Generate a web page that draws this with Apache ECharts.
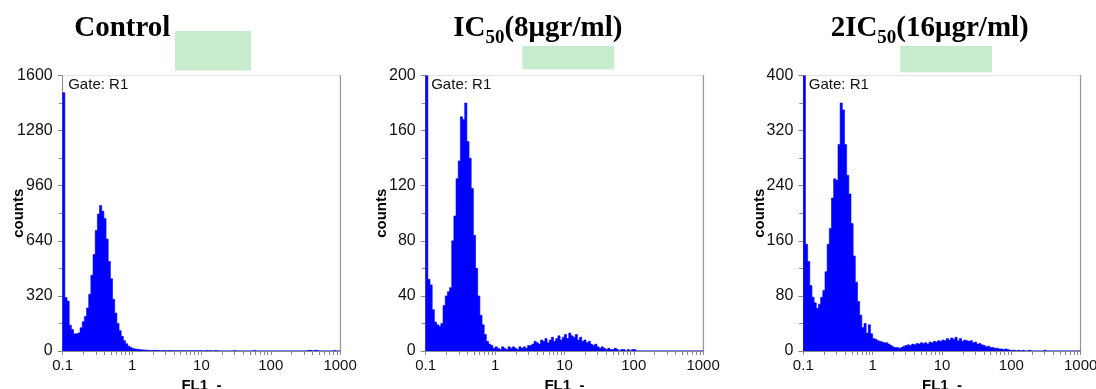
<!DOCTYPE html>
<html>
<head>
<meta charset="utf-8">
<script src="https://cdn.jsdelivr.net/npm/echarts@6/dist/echarts.min.js"></script>
<style>
html,body{margin:0;padding:0;background:#fff;}
#chart{width:1096px;height:389px;}
</style>
</head>
<body>
<div id="chart"></div>
<script>
// ---- data (FL1 channels, 32 per decade from 0.1 to 1000) ----
const xTickLabels = ['0.1', '1', '10', '100', '1000'];
const panelTitles = ['Control', 'IC50(8μgr/ml)', '2IC50(16μgr/ml)'];
const yMaxes = [1600, 200, 400];
const yIntervals = [320, 40, 80];

const controlCounts = [
  1500,310,290,150,125,100,100,105,135,170,200,250,330,440,560,700,
  795,845,812,770,650,520,420,300,220,160,118,85,60,42,28,20,
  15,12,10,8,7,6,5,4,3,3,4,3,3,2,3,2,
  2,3,2,2,2,1,2,2,1,2,1,1,2,1,1,2,
  1,0,3,1,2,0,3,1,0,0,0,0,0,0,0,3,
  0,0,0,0,0,0,0,0,3,0,0,0,0,0,0,0,
  0,0,0,0,0,0,0,0,0,0,0,0,0,0,0,0,
  0,4,3,0,4,3,0,0,0,0,0,0,0,3,0,0
];
const ic50Counts = [
  260,52,48,30,21,19,18,20,33,40,43,46,80,98,125,138,
  170,168,180,152,140,118,84,60,40,26,19,12,7,5,4,2,
  3,2,1,3,2,1,3,2,3,2,1,3,2,3,2,4,
  4,5,7,6,5,8,7,9,6,8,10,7,9,11,8,10,
  12,9,13,11,10,12,8,10,7,8,6,7,5,4,5,3,
  2,3,2,1,2,1,1,2,1,0,1,1,0,1,0,1,
  1,0,0,0,0,0,0,0,0,0,0,0,0,0,0,0,
  0,0,0,0,0,0,0,0,0,0,0,0,0,0,0,0
];
const ic50x2Counts = [
  520,155,130,95,78,70,62,68,78,88,115,155,178,222,250,248,
  300,360,350,300,255,228,185,138,100,72,52,34,40,26,38,25,
  18,17,15,14,13,12,12,10,8,6,5,5,4,5,7,8,
  9,8,10,9,11,10,12,11,12,10,13,12,14,13,15,14,
  16,15,18,16,19,17,20,15,18,14,16,15,14,15,12,13,
  10,11,9,8,6,7,5,5,4,4,3,3,2,3,2,1,
  1,1,0,1,0,1,0,0,1,0,0,0,0,0,0,1,
  0,0,0,0,0,0,0,0,0,0,0,0,0,0,0,0
];
const allCounts = [controlCounts, ic50Counts, ic50x2Counts];

// ---- layout ----
const PER_DECADE = 32;
const NCH = PER_DECADE * 4;
const gridLefts = [62.7, 425.7, 803.3];
const gridWidth = 277.4;
const gridTop = 75.5;
const gridHeight = 275.5;
const titleCenters = [122.3, 537.8, 929.7];
const greenRects = [[175, 31, 76, 39.5], [522.3, 46, 92, 23.5], [900.3, 46, 91.7, 26.3]];

const majorTicks = [0, 1, 2, 3, 4].map(d => d * PER_DECADE);
const allTicks = [];
for (let d = 0; d < 4; d++) {
  for (let k = 1; k <= 9; k++) allTicks.push(d * PER_DECADE + PER_DECADE * Math.log10(k));
}
allTicks.push(NCH);

const labelFont = "'Liberation Sans', Arial, sans-serif";
const serif = "'Liberation Serif', 'Times New Roman', serif";

// one filled step polygon per histogram, positioned through the axes (api.coord)
function makeRenderer(counts) {
  return function (params, api) {
    const pts = [api.coord([0, 0])];
    for (let i = 0; i < counts.length; i++) {
      pts.push(api.coord([i, counts[i]]));
      pts.push(api.coord([i + 1, counts[i]]));
    }
    pts.push(api.coord([counts.length, 0]));
    return {
      type: 'polygon',
      shape: {points: pts},
      style: {fill: '#0000ff', stroke: '#0000ff', lineWidth: 0.6}
    };
  };
}

const grids = [], xAxes = [], yAxes = [], series = [], graphics = [];
for (let p = 0; p < 3; p++) {
  grids.push({left: gridLefts[p], top: gridTop, width: gridWidth, height: gridHeight,
    outerBoundsMode: 'none', containLabel: false,
    show: true, borderColor: '#e4e4e4', borderWidth: 1, backgroundColor: 'transparent'});
  xAxes.push({
    type: 'value', gridIndex: p, min: 0, max: NCH,
    name: 'FL1  -', nameLocation: 'middle', nameGap: 27, nameMoveOverlap: false,
    nameTextStyle: {fontFamily: labelFont, fontWeight: 'bold', fontSize: 15, color: '#000'},
    axisLine: {show: true, onZero: false, lineStyle: {color: '#8a8a8a', width: 1}},
    axisTick: {show: true, customValues: allTicks, length: 4, lineStyle: {color: '#8a8a8a'}},
    axisLabel: {show: true, customValues: majorTicks, margin: 7,
      formatter: v => xTickLabels[Math.round(v / PER_DECADE)],
      fontFamily: labelFont, fontSize: 15, color: '#111'},
    splitLine: {show: false}
  });
  yAxes.push({
    type: 'value', gridIndex: p, min: 0, max: yMaxes[p], interval: yIntervals[p],
    name: 'counts', nameLocation: 'middle', nameGap: 36, nameMoveOverlap: false,
    nameTextStyle: {fontFamily: labelFont, fontWeight: 'bold', fontSize: 15, color: '#000'},
    axisLine: {show: true, lineStyle: {color: '#8a8a8a', width: 1}},
    axisTick: {show: true, length: 5, lineStyle: {color: '#8a8a8a'}},
    minorTick: {show: true, splitNumber: 2, length: 4, lineStyle: {color: '#8a8a8a'}},
    axisLabel: {margin: 10, fontFamily: labelFont, fontSize: 16, color: '#111',
      formatter: v => String(v)},
    splitLine: {show: false}
  });
  const counts = allCounts[p];
  series.push({
    type: 'custom', xAxisIndex: p, yAxisIndex: p, clip: true, animation: false,
    data: [[0, 0]],
    encode: {x: 0, y: 1},
    renderItem: makeRenderer(counts)
  });
  const r = greenRects[p];
  graphics.push({type: 'rect', shape: {x: r[0], y: r[1], width: r[2], height: r[3]},
    style: {fill: '#c7ebcd'}, z: 10});
  graphics.push({type: 'text', x: gridLefts[p] + 5.5, y: 77, z: 10,
    style: {text: 'Gate: R1', font: "15px 'Liberation Sans', Arial, sans-serif", fill: '#111',
      align: 'left', verticalAlign: 'top'}});
}
// right border axes
for (let p = 0; p < 3; p++) {
  yAxes.push({type: 'value', gridIndex: p, position: 'right', min: 0, max: 1,
    axisLine: {show: true, lineStyle: {color: '#999', width: 1.2}},
    axisTick: {show: false}, axisLabel: {show: false}, splitLine: {show: false}});
}

// titles
const richStyles = {
  a: {fontFamily: serif, fontWeight: 'bold', fontSize: 29, color: '#000', lineHeight: 38, verticalAlign: 'middle'},
  b: {fontFamily: serif, fontWeight: 'bold', fontSize: 19, color: '#000', lineHeight: 20, verticalAlign: 'bottom'}
};
const titleRich = [
  '{a|Control}',
  '{a|IC}{b|50}{a|(8μgr/ml)}',
  '{a|2IC}{b|50}{a|(16μgr/ml)}'
];
for (let p = 0; p < 3; p++) {
  graphics.push({type: 'text', x: titleCenters[p], y: 29, z: 5,
    style: {text: titleRich[p], rich: richStyles, align: 'center', verticalAlign: 'middle'}});
}

const chart = echarts.init(document.getElementById('chart'), null, {renderer: 'canvas'});
chart.setOption({
  animation: false,
  backgroundColor: '#fff',
  grid: grids,
  xAxis: xAxes,
  yAxis: yAxes,
  series: series,
  graphic: graphics
});
</script>
</body>
</html>
